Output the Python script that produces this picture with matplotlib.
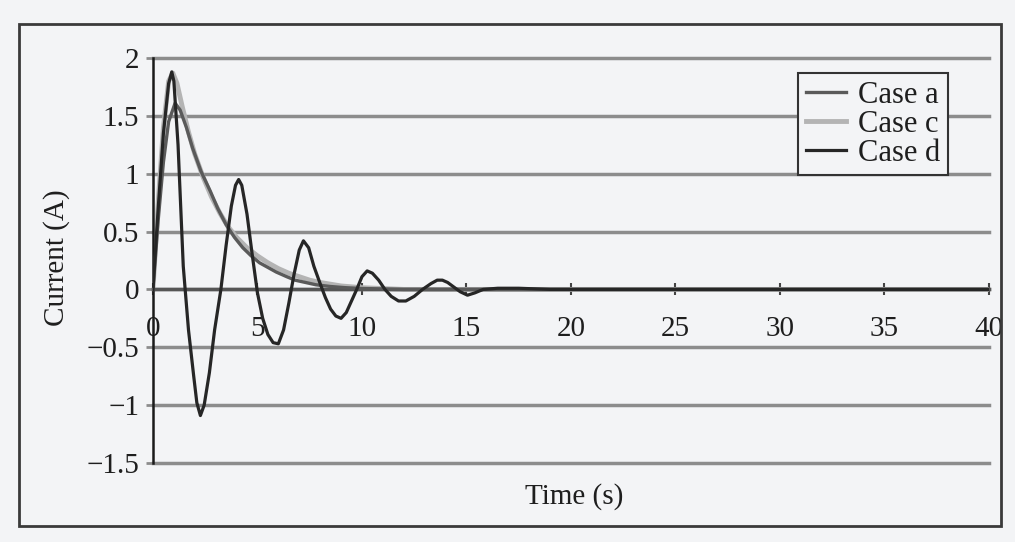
import matplotlib
matplotlib.use('Agg')
import matplotlib.pyplot as plt
from matplotlib.patches import Rectangle

# Case d: underdamped response
t_d = [0, 0.25, 0.5, 0.75, 0.9, 1.0, 1.2, 1.45, 1.7, 1.95, 2.1, 2.27, 2.45, 2.7,
       2.95, 3.25, 3.5, 3.75, 3.95, 4.1, 4.25, 4.5, 4.75, 5.0, 5.25, 5.5, 5.75,
       6.0, 6.25, 6.5, 6.75, 7.0, 7.2, 7.45, 7.7, 8.0, 8.25, 8.5, 8.75, 9.0,
       9.25, 9.5, 9.75, 10.0, 10.25, 10.5, 10.8, 11.1, 11.4, 11.75, 12.1, 12.5,
       12.9, 13.3, 13.6, 13.85, 14.1, 14.4, 14.7, 15.05, 15.4, 15.8, 16.5, 17.5,
       19, 40]
i_d = [0, 0.7, 1.35, 1.78, 1.88, 1.8, 1.25, 0.2, -0.35, -0.75, -0.98, -1.09,
       -1.0, -0.72, -0.35, 0.0, 0.38, 0.72, 0.9, 0.95, 0.9, 0.65, 0.3, -0.03,
       -0.25, -0.39, -0.46, -0.47, -0.35, -0.12, 0.13, 0.34, 0.42, 0.36, 0.2,
       0.05, -0.07, -0.17, -0.23, -0.25, -0.2, -0.1, 0.0, 0.11, 0.16, 0.14, 0.08,
       0.0, -0.06, -0.1, -0.1, -0.06, 0.0, 0.05, 0.08, 0.08, 0.06, 0.02, -0.02,
       -0.05, -0.03, 0.0, 0.01, 0.01, 0, 0]

# Case a: peak ~1.6
t_a = [0, 0.25, 0.5, 0.75, 1.06, 1.3, 1.6, 1.9, 2.3, 2.74, 3.1, 3.5, 3.9, 4.3,
       4.7, 5.1, 5.5, 5.9, 6.4, 6.8, 7.3, 7.8, 8.5, 9.2, 10, 12, 40]
i_a = [0, 0.6, 1.1, 1.45, 1.61, 1.55, 1.4, 1.22, 1.02, 0.85, 0.7, 0.56, 0.45,
       0.36, 0.29, 0.23, 0.19, 0.15, 0.11, 0.08, 0.06, 0.04, 0.025, 0.015,
       0.008, 0, 0]

# Case c: peak ~1.87
t_c = [0, 0.25, 0.5, 0.75, 0.95, 1.15, 1.4, 1.7, 2.0, 2.4, 2.8, 3.2, 3.6, 4.0,
       4.5, 5.0, 5.5, 6.0, 6.5, 7.0, 7.5, 8.0, 9.0, 10, 12, 40]
i_c = [0, 0.75, 1.4, 1.8, 1.87, 1.78, 1.58, 1.36, 1.17, 0.97, 0.8, 0.66, 0.54,
       0.45, 0.36, 0.29, 0.23, 0.18, 0.14, 0.11, 0.08, 0.06, 0.03, 0.015, 0, 0]

x_ticks = [0, 5, 10, 15, 20, 25, 30, 35, 40]
y_ticks = [-1.5, -1, -0.5, 0, 0.5, 1, 1.5, 2]

bg = '#f3f4f6'
txt = '#1e1e1e'
grid_c = '#8c8c8c'
fs = 21

plt.rcParams['font.family'] = ['Liberation Serif', 'DejaVu Serif']

fig = plt.figure(figsize=(10.15, 5.42), dpi=100)
fig.patch.set_facecolor(bg)
ax = fig.add_axes([0.1507, 0.1458, 0.8236, 0.7472])
ax.set_facecolor(bg)

# outer frame of the printed figure
fig.patches.append(Rectangle((0.0187, 0.0295), 0.9675, 0.926, transform=fig.transFigure,
                             fill=False, edgecolor='#3a3a3a', linewidth=2))

ax.plot(t_a, i_a, color='#5a5a5a', lw=2.4, label='Case a', zorder=3)
ax.plot(t_c, i_c, color='#b4b4b4', lw=3.5, label='Case c', zorder=2)
ax.plot(t_d, i_d, color='#262626', lw=2.3, label='Case d', zorder=4)

ax.set_xlim(0, 40)
ax.set_ylim(-1.5, 2)
ax.set_xticks(x_ticks)
ax.set_yticks(y_ticks)
ax.set_yticklabels(['\u22121.5', '\u22121', '\u22120.5', '0', '0.5', '1', '1.5', '2'])

ax.yaxis.grid(True, color=grid_c, lw=2.5)
for gl in ax.get_ygridlines():
    gl.set_clip_on(False)
ax.set_axisbelow(True)

for s in ['top', 'right']:
    ax.spines[s].set_visible(False)
ax.spines['left'].set_color('#1a1a1a')
ax.spines['left'].set_linewidth(1.8)
ax.spines['bottom'].set_position(('data', 0))
ax.spines['bottom'].set_color('#555555')
ax.spines['bottom'].set_linewidth(2.5)

ax.tick_params(axis='y', direction='out', length=5, width=2, color=grid_c,
               pad=5, labelsize=fs, labelcolor=txt)
ax.tick_params(axis='x', direction='inout', length=9, width=1.5, color='#444444',
               pad=15, labelsize=fs, labelcolor=txt)

fig.text(57 / 1015, 1 - 258 / 542, 'Current (A)', rotation=90, ha='center',
         va='center', fontsize=fs, color=txt)
fig.text(574 / 1015, 1 - 497 / 542, 'Time (s)', ha='center', va='center',
         fontsize=fs, color=txt)

leg = ax.legend(loc='upper right', bbox_to_anchor=(0.951, 0.963), fontsize=22,
                frameon=True, fancybox=False, framealpha=1, facecolor=bg,
                edgecolor='#333333', handlelength=1.3, handletextpad=0.4,
                labelspacing=0.0, borderpad=0.25, borderaxespad=0)
leg.get_frame().set_linewidth(1.5)
for t in leg.get_texts():
    t.set_color(txt)

fig.savefig('out.png', dpi=100, facecolor=bg)
